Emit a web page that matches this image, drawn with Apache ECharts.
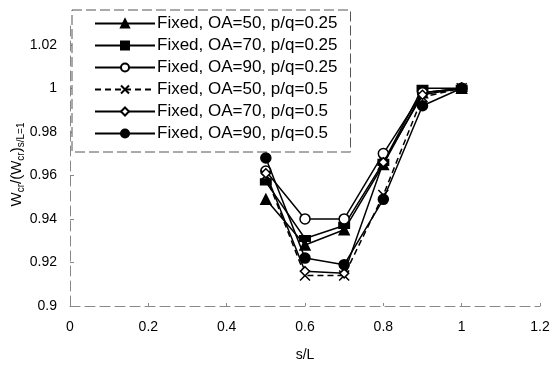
<!DOCTYPE html>
<html><head><meta charset="utf-8">
<script src="https://cdn.jsdelivr.net/npm/echarts@6/dist/echarts.min.js"></script>
<style>html,body{margin:0;padding:0;background:#fff}#c{width:555px;height:371px}</style>
</head><body><div id="c"></div>
<script>
const xValues = [0.5, 0.6, 0.7, 0.8, 0.9, 1.0];
const seriesNames = [
  'Fixed, OA=50, p/q=0.25',
  'Fixed, OA=70, p/q=0.25',
  'Fixed, OA=90, p/q=0.25',
  'Fixed, OA=50, p/q=0.5',
  'Fixed, OA=70, p/q=0.5',
  'Fixed, OA=90, p/q=0.5'
];
const oa50q25 = [0.949, 0.928, 0.935, 0.965, 0.998, 1.0];
const oa70q25 = [0.957, 0.931, 0.937, 0.966, 1.0, 1.0];
const oa90q25 = [0.962, 0.940, 0.940, 0.970, 0.998, 1.0];
const oa50q5  = [0.960, 0.914, 0.914, 0.951, 0.996, 1.0];
const oa70q5  = [0.961, 0.916, 0.915, 0.966, 0.997, 1.0];
const oa90q5  = [0.968, 0.922, 0.919, 0.949, 0.992, 1.0];
const allValues = [oa50q25, oa70q25, oa90q25, oa50q5, oa70q5, oa90q5];

const font = 'Arial, "Liberation Sans", sans-serif';
const styles = [
  {symbol: 'triangle', symbolSize: 10, lineType: 'solid', fill: '#000'},
  {symbol: 'rect', symbolSize: [10, 6], lineType: 'solid', fill: '#000'},
  {symbol: 'circle', symbolSize: 10, lineType: 'solid', fill: '#fff'},
  {symbol: 'path://M0,0L10,10M10,0L0,10', symbolSize: 10, lineType: [6, 4], fill: '#000'},
  {symbol: 'diamond', symbolSize: 9, lineType: 'solid', fill: '#fff'},
  {symbol: 'circle', symbolSize: 10, lineType: 'solid', fill: '#000'}
];

const series = seriesNames.map((name, i) => ({
  name: name,
  type: 'line',
  data: xValues.map((x, j) => [x, allValues[i][j]]),
  symbol: styles[i].symbol,
  symbolSize: styles[i].symbolSize,
  showAllSymbol: true,
  lineStyle: {color: '#000', width: 1.5, type: styles[i].lineType},
  itemStyle: {color: styles[i].fill, borderColor: '#000', borderWidth: 1.5, opacity: 1},
  emphasis: {disabled: true},
  animation: false,
  z: 2 + i
}));

const chart = echarts.init(document.getElementById('c'), null, {renderer: 'canvas'});
chart.setOption({
  backgroundColor: '#fff',
  animation: false,
  textStyle: {fontFamily: font},
  grid: {left: 70, right: 15, top: 23, bottom: 65, containLabel: false, outerBoundsMode: 'none'},
  legend: {
    orient: 'vertical',
    left: 72, top: 10,
    itemWidth: 60, itemHeight: 10, itemGap: 5,
    padding: [5, 13, 10, 22],
    backgroundColor: '#fff',
    borderColor: '#555', borderWidth: 1, borderType: [10, 4],
    textStyle: {fontSize: 17, color: '#000', fontFamily: font, padding: [0, 0, 0, -3]},
    data: seriesNames
  },
  xAxis: {
    type: 'value', min: 0, max: 1.2, interval: 0.2,
    name: 's/L', nameLocation: 'middle', nameGap: 42, nameMoveOverlap: false,
    nameTextStyle: {fontSize: 14, color: '#000', fontFamily: font},
    axisLine: {lineStyle: {color: '#888', type: [10, 5], width: 1}},
    axisTick: {show: true, length: 3, inside: true, lineStyle: {color: '#888'}},
    axisLabel: {fontSize: 14, color: '#000', margin: 14, fontFamily: font},
    splitLine: {show: false}
  },
  yAxis: {
    type: 'value', min: 0.9, max: 1.03, interval: 0.02,
    name: '{b|W}{s|cr}{b|/(W}{s|cr}{b|)}{s|s/L=1}',
    nameLocation: 'middle', nameRotate: 90, nameGap: 44, nameMoveOverlap: false,
    nameTextStyle: {
      rich: {
        b: {fontSize: 15, color: '#000', fontFamily: font},
        s: {fontSize: 10, color: '#000', fontFamily: font, padding: [8, 0, 0, 0]}
      }
    },
    axisLine: {show: true, lineStyle: {color: '#888', type: [10, 5], width: 1}},
    axisTick: {show: true, length: 4, inside: true, lineStyle: {color: '#888'}},
    axisLabel: {fontSize: 14, color: '#000', margin: 13, fontFamily: font, showMaxLabel: false},
    splitLine: {show: false}
  },
  series: series
});
</script></body></html>
